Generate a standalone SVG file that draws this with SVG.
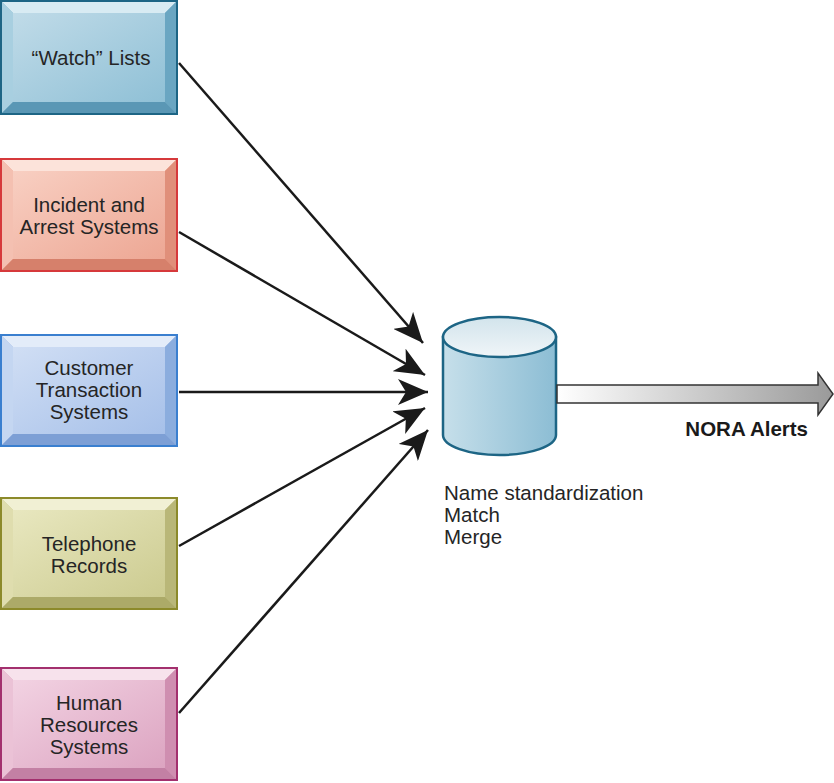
<svg xmlns="http://www.w3.org/2000/svg" width="834" height="783" viewBox="0 0 834 783">
<defs>
<style>
.lbl{font-family:"Liberation Sans",Arial,sans-serif;font-size:20.5px;fill:#252525;text-anchor:middle}
.note{font-family:"Liberation Sans",Arial,sans-serif;font-size:20.5px;fill:#252525}
.conn{stroke:#1a1a1a;stroke-width:2.5;fill:none;marker-end:url(#ah)}
</style>
<marker id="ah" viewBox="0 0 32 26" refX="30" refY="13" markerWidth="32" markerHeight="26" markerUnits="userSpaceOnUse" orient="auto">
<path d="M0,0 L30,13 L0,26 L8,13 Z" fill="#1a1a1a"/>
</marker>
<linearGradient id="gW" x1="0" y1="0" x2="1" y2="1"><stop offset="0" stop-color="#c0dbe8"/><stop offset="1" stop-color="#8fc0d6"/></linearGradient>
<linearGradient id="gI" x1="0" y1="0" x2="1" y2="1"><stop offset="0" stop-color="#f8cfc2"/><stop offset="1" stop-color="#eda794"/></linearGradient>
<linearGradient id="gC" x1="0" y1="0" x2="1" y2="1"><stop offset="0" stop-color="#d0def4"/><stop offset="1" stop-color="#a6c0e9"/></linearGradient>
<linearGradient id="gT" x1="0" y1="0" x2="1" y2="1"><stop offset="0" stop-color="#e8e7bf"/><stop offset="1" stop-color="#cccb90"/></linearGradient>
<linearGradient id="gH" x1="0" y1="0" x2="1" y2="1"><stop offset="0" stop-color="#f2d2e2"/><stop offset="1" stop-color="#dca4c1"/></linearGradient>
<linearGradient id="gCyl" x1="0" y1="0" x2="1" y2="0"><stop offset="0" stop-color="#c6dfea"/><stop offset="1" stop-color="#8cbdd4"/></linearGradient>
<linearGradient id="gTop" x1="0" y1="0" x2="0" y2="1"><stop offset="0" stop-color="#d2e4ec"/><stop offset="1" stop-color="#f0f5f8"/></linearGradient>
<linearGradient id="gArr" x1="0" y1="0" x2="1" y2="0"><stop offset="0" stop-color="#ffffff"/><stop offset="1" stop-color="#9a9a9a"/></linearGradient>
</defs>

<g id="watch-lists">
<rect x="1" y="1" width="176" height="113" fill="#7fb2ca"/>
<polygon points="1,1 177,1 165,13 13,13" fill="#d8ebf3"/>
<polygon points="1,1 13,13 13,102 1,114" fill="#a8cfe0"/>
<polygon points="177,1 177,114 165,102 165,13" fill="#6aa6c2"/>
<polygon points="1,114 13,102 165,102 177,114" fill="#5a97b5"/>
<rect x="13" y="13" width="152" height="89" fill="url(#gW)"/>
<rect x="1" y="1" width="176" height="113" fill="none" stroke="#1d6585" stroke-width="2"/>
<text class="lbl" x="91" y="65">“Watch” Lists</text>
</g>

<g id="incident-arrest">
<rect x="1" y="159" width="176" height="112" fill="#e89c88"/>
<polygon points="1,159 177,159 165,171 13,171" fill="#fce3da"/>
<polygon points="1,159 13,171 13,259 1,271" fill="#f4c0b1"/>
<polygon points="177,159 177,271 165,259 165,171" fill="#e08f7a"/>
<polygon points="1,271 13,259 165,259 177,271" fill="#d6806b"/>
<rect x="13" y="171" width="152" height="88" fill="url(#gI)"/>
<rect x="1" y="159" width="176" height="112" fill="none" stroke="#d6393b" stroke-width="2"/>
<text class="lbl" x="89" y="212">Incident and</text>
<text class="lbl" x="89" y="234">Arrest Systems</text>
</g>

<g id="customer-transaction">
<rect x="1" y="335" width="176" height="111" fill="#9ab5e3"/>
<polygon points="1,335 177,335 165,347 13,347" fill="#e3ecf9"/>
<polygon points="1,335 13,347 13,434 1,446" fill="#c4d6f1"/>
<polygon points="177,335 177,446 165,434 165,347" fill="#8badde"/>
<polygon points="1,446 13,434 165,434 177,446" fill="#7d9fd5"/>
<rect x="13" y="347" width="152" height="87" fill="url(#gC)"/>
<rect x="1" y="335" width="176" height="111" fill="none" stroke="#3a7fcf" stroke-width="2"/>
<text class="lbl" x="89" y="375">Customer</text>
<text class="lbl" x="89" y="397">Transaction</text>
<text class="lbl" x="89" y="419">Systems</text>
</g>

<g id="telephone-records">
<rect x="1" y="498" width="176" height="111" fill="#c4c284"/>
<polygon points="1,498 177,498 165,510 13,510" fill="#f1f0d4"/>
<polygon points="1,498 13,510 13,597 1,609" fill="#dfddae"/>
<polygon points="177,498 177,609 165,597 165,510" fill="#b9b778"/>
<polygon points="1,609 13,597 165,597 177,609" fill="#acaa68"/>
<rect x="13" y="510" width="152" height="87" fill="url(#gT)"/>
<rect x="1" y="498" width="176" height="111" fill="none" stroke="#8c8a2a" stroke-width="2"/>
<text class="lbl" x="89" y="551">Telephone</text>
<text class="lbl" x="89" y="573">Records</text>
</g>

<g id="human-resources">
<rect x="1" y="668" width="176" height="112" fill="#d69ab9"/>
<polygon points="1,668 177,668 165,680 13,680" fill="#f7e2ec"/>
<polygon points="1,668 13,680 13,768 1,780" fill="#ebc2d6"/>
<polygon points="177,668 177,780 165,768 165,680" fill="#cf8eb0"/>
<polygon points="1,780 13,768 165,768 177,780" fill="#c380a4"/>
<rect x="13" y="680" width="152" height="88" fill="url(#gH)"/>
<rect x="1" y="668" width="176" height="112" fill="none" stroke="#a3306e" stroke-width="2"/>
<text class="lbl" x="89" y="710">Human</text>
<text class="lbl" x="89" y="732">Resources</text>
<text class="lbl" x="89" y="754">Systems</text>
</g>

<g id="connectors">
<line class="conn" x1="179" y1="63" x2="423" y2="343"/>
<line class="conn" x1="179" y1="232" x2="425" y2="375"/>
<line class="conn" x1="179" y1="392" x2="428" y2="392"/>
<line class="conn" x1="179" y1="546" x2="425" y2="408"/>
<line class="conn" x1="179" y1="713" x2="428" y2="430"/>
</g>

<g id="database">
<path d="M443,337 L443,435 A56.5,20 0 0 0 556,435 L556,337 Z" fill="url(#gCyl)" stroke="#1d6585" stroke-width="2.5"/>
<ellipse cx="499.5" cy="337" rx="56.5" ry="20" fill="url(#gTop)" stroke="#1d6585" stroke-width="2.5"/>
<text class="note" x="444" y="500">Name standardization</text>
<text class="note" x="444" y="522">Match</text>
<text class="note" x="444" y="544">Merge</text>
</g>

<g id="nora-alerts">
<polygon points="557,385 818,385 818,373 833,394 818,415 818,403 557,403" fill="url(#gArr)" stroke="#333" stroke-width="1.5"/>
<text x="808" y="436" text-anchor="end" font-family="'Liberation Sans',Arial,sans-serif" font-size="20.5" font-weight="bold" fill="#1a1a1a">NORA Alerts</text>
</g>
</svg>
